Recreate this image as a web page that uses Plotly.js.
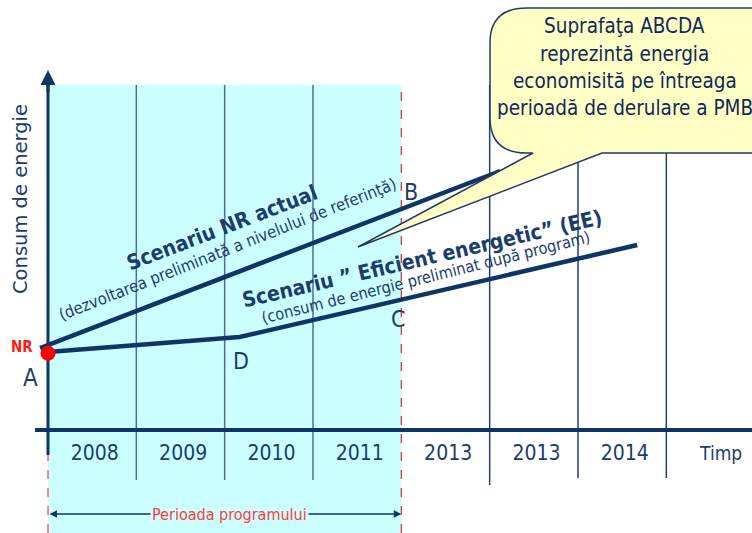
<!DOCTYPE html>
<html>
<head>
<meta charset="utf-8">
<script src="https://cdn.plot.ly/plotly-3.0.1.min.js"></script>
<style>html,body{margin:0;padding:0;background:#fff;}#chart{width:752px;height:533px;}</style>
</head>
<body>
<div id="chart"></div>
<script>
// ---- data (time in program periods from start of 2008, energy in arbitrary units above the time axis) ----
const yearLabels = ['2008', '2009', '2010', '2011', '2013', '2013', '2014'];
const timeAxisLabel = 'Timp';
const energyAxisLabel = 'Consum de energie';
const nrTime = [-0.09, 5.12];
const nrEnergy = [102.4, 323.75];
const eeTime = [0, 2.17, 6.67];
const eeEnergy = [97.5, 116.25, 231.25];
const startTime = [0];
const startEnergy = [96];
const programStart = 0;
const programEnd = 4;
const gridTimes = [1, 2, 3, 5, 6, 7];
const calloutLines = ['Suprafaţa ABCDA', 'reprezintă energia', 'economisită pe întreaga', 'perioadă de derulare a PMB'];

// ---- styling ----
const NAVY = '#0e3566';
const TEXT = '#1b3d6e';
const CYAN = '#ccffff';
const COND = '"DejaVu Sans Condensed", "DejaVu Sans", sans-serif';
const NORM = '"DejaVu Sans", sans-serif';
const X_RANGE = [-0.5434, 7.9698];
const Y_RANGE = [-128.75, 537.5];
const TOP = 431.25;

const shapes = [];
shapes.push({type: 'rect', layer: 'below', xref: 'x', yref: 'y', x0: programStart, x1: programEnd, y0: Y_RANGE[0], y1: TOP, fillcolor: CYAN, line: {width: 0}});
gridTimes.forEach(t => {
  const inside = t < programEnd;
  shapes.push({type: 'line', layer: 'below', xref: 'x', yref: 'y', x0: t, x1: t,
    y0: t === 5 ? -68.75 : (inside ? -62.5 : -60), y1: TOP,
    line: {color: inside ? '#4f6d96' : '#1f4070', width: 1.5}});
});
shapes.push({type: 'line', layer: 'below', xref: 'x', yref: 'y', x0: programEnd, x1: programEnd, y0: Y_RANGE[0], y1: TOP, line: {color: '#e03a3a', width: 1.3, dash: 'dash'}});
shapes.push({type: 'line', layer: 'below', xref: 'x', yref: 'y', x0: programStart, x1: programStart, y0: Y_RANGE[0], y1: -31.25, line: {color: '#ff4a4a', width: 1.3, dash: 'dash'}});
shapes.push({type: 'line', layer: 'below', xref: 'x', yref: 'y', x0: -0.147, x1: 8.2, y0: 0, y1: 0, line: {color: NAVY, width: 4}});
shapes.push({type: 'line', layer: 'below', xref: 'x', yref: 'y', x0: 0, x1: 0, y0: -31.25, y1: 440, line: {color: NAVY, width: 3}});
// callout bubble
shapes.push({type: 'path', layer: 'above', xref: 'x', yref: 'y',
  path: 'M 5.42,527.5 L 8.3,527.5 L 8.3,346.25 L 6.272,346.25 L 3.509,228.75 L 5.491,346.25 L 5.42,346.25 Q 5.004,346.25 5.004,390 L 5.004,483.75 Q 5.004,527.5 5.42,527.5 Z',
  fillcolor: '#ffffc6', line: {color: '#1f3a6b', width: 1.5}});

const traces = [
  {x: nrTime, y: nrEnergy, mode: 'lines', line: {color: NAVY, width: 4.5}, hoverinfo: 'skip'},
  {x: eeTime, y: eeEnergy, mode: 'lines', line: {color: NAVY, width: 4.5}, hoverinfo: 'skip'},
  {x: startTime, y: startEnergy, mode: 'markers', marker: {color: '#ff0000', size: 15}, hoverinfo: 'skip'},
  {x: yearLabels.map((_, i) => i + 0.53), y: yearLabels.map(() => -31.25), text: yearLabels, mode: 'text',
   textfont: {family: COND, size: 21, color: TEXT}, hoverinfo: 'skip'},
  {x: [7.62], y: [-32], text: [timeAxisLabel], mode: 'text', textfont: {family: COND, size: 19, color: TEXT}, hoverinfo: 'skip'}
];

const ann = [];
function txt(x, y, text, opts) {
  ann.push(Object.assign({x, y, text, xref: 'x', yref: 'y', showarrow: false, xanchor: 'center', yanchor: 'middle'}, opts));
}
// y axis arrow head
ann.push({x: 0, y: 450, ax: 0, ay: 420, xref: 'x', yref: 'y', axref: 'x', ayref: 'y', text: '', showarrow: true, arrowhead: 2, arrowsize: 1, arrowwidth: 3, arrowcolor: NAVY});
// program period double arrow
ann.push({x: programEnd, y: -105, ax: programStart, ay: -105, xref: 'x', yref: 'y', axref: 'x', ayref: 'y', text: '', showarrow: true, arrowhead: 2, arrowside: 'end+start', arrowsize: 1, arrowwidth: 1.5, arrowcolor: NAVY});
txt(2.055, -105, 'Perioada programului', {font: {family: COND, size: 16, color: '#ff3b3b'}, bgcolor: CYAN});
txt(-0.317, 288.75, energyAxisLabel, {textangle: -90, font: {family: NORM, size: 19.5, color: TEXT}});
txt(-0.295, 103.75, '<b>NR</b>', {font: {family: COND, size: 15, color: '#ff1a1a'}});
txt(-0.2, 65, 'A', {font: {family: COND, size: 24, color: TEXT}});
txt(2.19, 86, 'D', {font: {family: COND, size: 23, color: TEXT}});
txt(4.107, 298, 'B', {font: {family: COND, size: 23, color: TEXT}});
txt(3.957, 139, 'C', {font: {family: COND, size: 23, color: TEXT}});
txt(1.97, 252.5, '<b>Scenariu NR actual</b>', {textangle: -21, font: {family: COND, size: 21, color: TEXT}});
txt(2.03, 226, '(dezvoltarea preliminată a nivelului de referinţă)', {textangle: -21.5, font: {family: COND, size: 16.5, color: TEXT}});
txt(4.234, 213.5, '<b>Scenariu ” Eficient energetic” (EE)</b>', {textangle: -13.1, font: {family: COND, size: 21, color: TEXT}});
txt(4.28, 190.5, '(consum de energie preliminat după program)', {textangle: -14, font: {family: COND, size: 16.2, color: TEXT}});
const calloutE = [505, 470, 436.25, 402.5];
calloutLines.forEach((l, i) => txt(6.532, calloutE[i], l, {font: {family: COND, size: 20.5, color: '#10295a'}}));

const layout = {
  width: 752, height: 533,
  margin: {l: 0, r: 0, t: 0, b: 0, pad: 0},
  paper_bgcolor: '#ffffff', plot_bgcolor: '#ffffff',
  showlegend: false,
  xaxis: {range: X_RANGE, visible: false, fixedrange: true},
  yaxis: {range: Y_RANGE, visible: false, fixedrange: true},
  shapes: shapes,
  annotations: ann
};
Plotly.newPlot('chart', traces, layout, {staticPlot: true, displayModeBar: false});
</script>
</body>
</html>
